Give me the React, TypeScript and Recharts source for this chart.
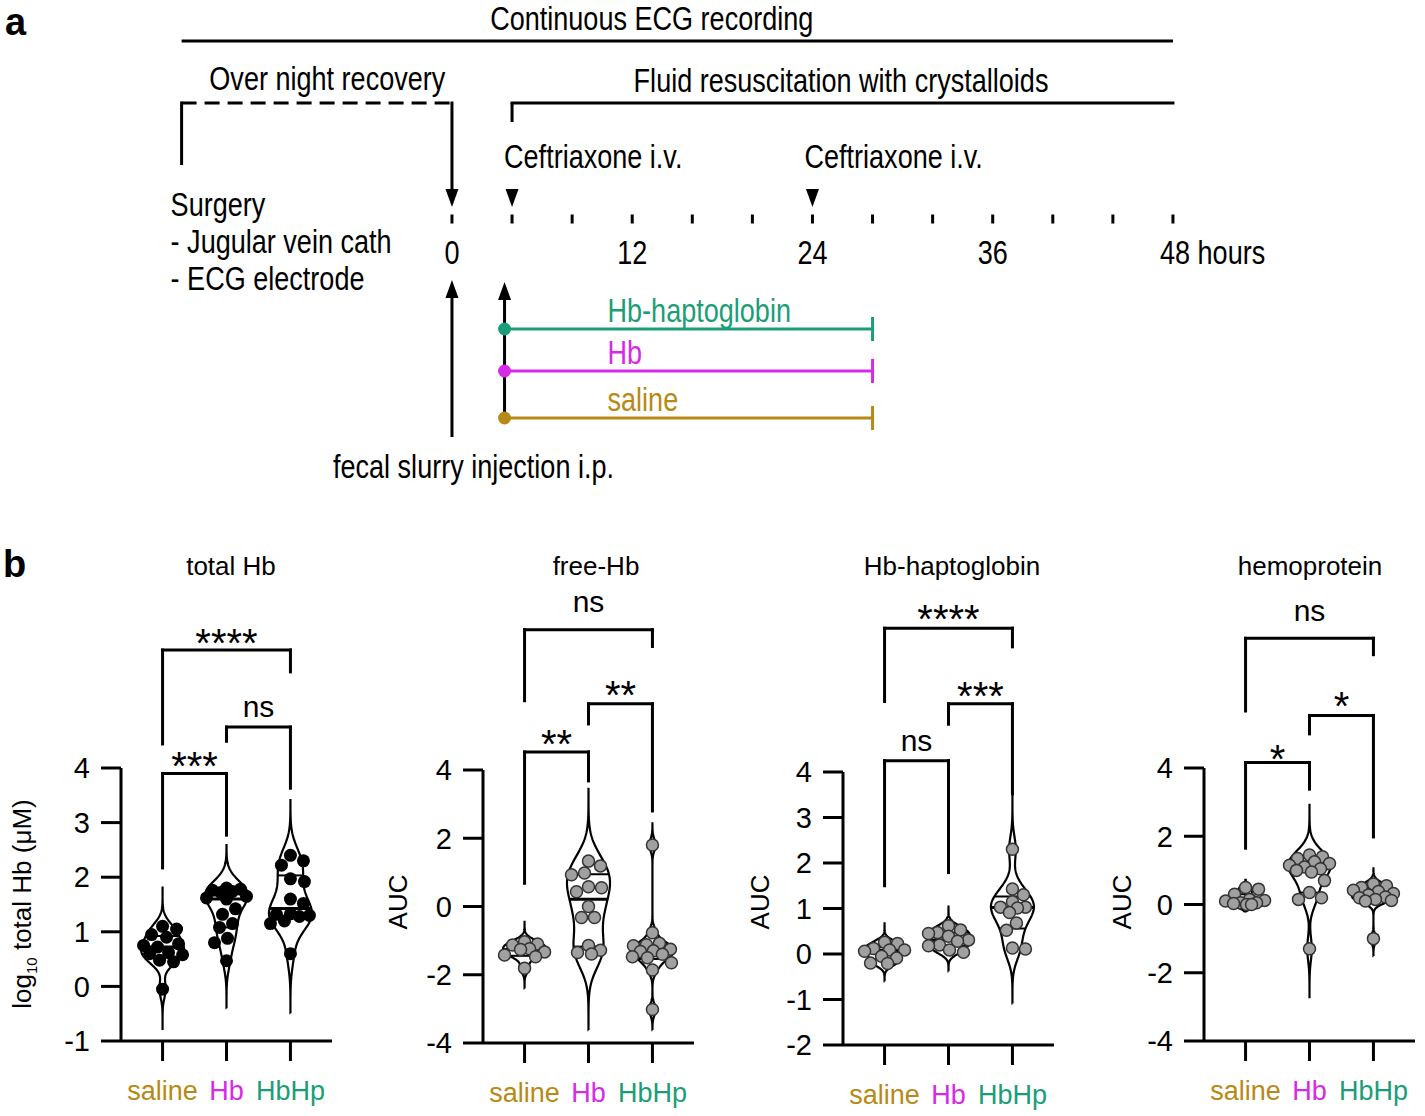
import React from "react";
import {
  ComposedChart,
  Line,
  Scatter,
  XAxis,
  YAxis,
  ReferenceLine,
  ReferenceDot,
} from "recharts";

const SANS = "'Liberation Sans', Arial, sans-serif";

// ---------- panel a: protocol (hours) ----------
const hourTicks = [0, 4, 8, 12, 16, 20, 24, 28, 32, 36, 40, 44, 48];
const hourLabels = [0, 12, 24, 36, 48];
const surgeryTime = -18;
const injectionTime = 0;
const fluidStart = 4;
const recordingEnd = 48;
const ceftriaxoneTimes = [4, 24];
const treatmentStart = 3.5;
const treatmentEnd = 28;
const treatments = ["Hb-haptoglobin", "Hb", "saline"];

// ---------- panel b ----------
const groups = ["saline", "Hb", "HbHp"];
const groupColors = ["#b78916", "#d62ae8", "#1b9e77"];
const treatmentColors = [groupColors[2], groupColors[1], groupColors[0]];

// total Hb (log10 µM)
const totalHbSaline = [1.1, 1.05, 0.95, 0.9, 0.78, 0.75, 0.72, 0.62, 0.6, 0.58, 0.48, 0.45, -0.05];
const totalHbHb = [1.8, 1.78, 1.76, 1.74, 1.72, 1.65, 1.62, 1.6, 1.42, 1.32, 1.15, 1.08, 0.88, 0.8, 0.47];
const totalHbHbHp = [2.4, 2.3, 2.22, 1.97, 1.92, 1.6, 1.52, 1.33, 1.32, 1.3, 1.28, 1.2, 1.15, 0.6];
const totalHbTails = [[-0.8, 1.83], [-0.4, 2.59], [-0.49, 3.41]];

// free-Hb AUC
const freeHbSaline = [-1.03, -1.1, -1.13, -1.24, -1.26, -1.33, -1.42, -1.47, -1.81];
const freeHbHb = [1.33, 1.19, 0.98, 0.93, 0.58, 0.55, 0.43, 0.0, -0.32, -0.32, -1.14, -1.28, -1.35, -1.39];
const freeHbHbHp = [1.8, -0.77, -1.08, -1.12, -1.15, -1.25, -1.3, -1.32, -1.4, -1.47, -1.5, -1.65, -1.86, -3.02];
const freeHbTails = [[-2.4, -0.45], [-3.62, 3.45], [-3.62, 2.44]];

// Hb-haptoglobin AUC
const hbhpSaline = [0.26, 0.23, 0.12, 0.09, 0.09, 0.06, -0.05, -0.09, -0.2, -0.21];
const hbhpHb = [0.62, 0.53, 0.47, 0.45, 0.39, 0.31, 0.28, 0.2, 0.18, 0.09, 0.04];
const hbhpHbHp = [2.3, 1.43, 1.3, 1.15, 1.03, 1.03, 1.01, 0.91, 0.68, 0.52, 0.13, 0.11];
const hbhpTails = [[-0.6, 0.7], [-0.38, 1.04], [-1.09, 3.5]];

// hemoprotein AUC
const hemoSaline = [0.5, 0.45, 0.3, 0.15, 0.12, 0.1, 0.05, 0.05, 0.03, 0.0, 0.0];
const hemoHb = [1.45, 1.4, 1.35, 1.25, 1.2, 1.15, 1.1, 1.05, 1.0, 0.95, 0.7, 0.35, 0.2, 0.15, -1.3];
const hemoHbHp = [0.6, 0.55, 0.5, 0.42, 0.38, 0.32, 0.28, 0.22, 0.2, 0.15, 0.12, 0.1, -1.0];
const hemoTails = [[-0.2, 0.72], [-2.75, 2.92], [-1.51, 1.06]];

// significance brackets: groups, bar level, leg ends (axis units)
type Bracket = { from: number; to: number; top: number; leftEnd: number; rightEnd: number; label: string; lift: number };
const totalHbBrackets: Bracket[] = [
  { from: 0, to: 2, top: 6.16, leftEnd: 4.44, rightEnd: 5.76, label: "****", lift: 16 },
  { from: 1, to: 2, top: 4.75, leftEnd: 4.49, rightEnd: 3.63, label: "ns", lift: 18 },
  { from: 0, to: 1, top: 3.9, leftEnd: 2.17, rightEnd: 2.77, label: "***", lift: 16 },
];
const freeHbBrackets: Bracket[] = [
  { from: 0, to: 2, top: 8.11, leftEnd: 6.03, rightEnd: 7.62, label: "ns", lift: 26 },
  { from: 1, to: 2, top: 5.94, leftEnd: 5.35, rightEnd: 2.8, label: "**", lift: 18 },
  { from: 0, to: 1, top: 4.53, leftEnd: 0.68, rightEnd: 3.68, label: "**", lift: 17 },
];
const hbhpBrackets: Bracket[] = [
  { from: 0, to: 2, top: 7.16, leftEnd: 5.55, rightEnd: 6.75, label: "****", lift: 18 },
  { from: 1, to: 2, top: 5.5, leftEnd: 5.05, rightEnd: 3.52, label: "***", lift: 17 },
  { from: 0, to: 1, top: 4.25, leftEnd: 1.5, rightEnd: 1.79, label: "ns", lift: 17 },
];
const hemoBrackets: Bracket[] = [
  { from: 0, to: 2, top: 7.8, leftEnd: 5.67, rightEnd: 7.32, label: "ns", lift: 25 },
  { from: 1, to: 2, top: 5.54, leftEnd: 5.0, rightEnd: 1.98, label: "*", lift: 18 },
  { from: 0, to: 1, top: 4.16, leftEnd: 1.65, rightEnd: 3.38, label: "*", lift: 12 },
];

const panels = [
  { title: "total Hb", sets: [totalHbSaline, totalHbHb, totalHbHbHp], tails: totalHbTails, domain: [-1, 4], ticks: [-1, 0, 1, 2, 3, 4], brackets: totalHbBrackets, filled: false },
  { title: "free-Hb", sets: [freeHbSaline, freeHbHb, freeHbHbHp], tails: freeHbTails, domain: [-4, 4], ticks: [-4, -2, 0, 2, 4], brackets: freeHbBrackets, filled: true },
  { title: "Hb-haptoglobin", sets: [hbhpSaline, hbhpHb, hbhpHbHp], tails: hbhpTails, domain: [-2, 4], ticks: [-2, -1, 0, 1, 2, 3, 4], brackets: hbhpBrackets, filled: true },
  { title: "hemoprotein", sets: [hemoSaline, hemoHb, hemoHbHp], tails: hemoTails, domain: [-4, 4], ticks: [-4, -2, 0, 2, 4], brackets: hemoBrackets, filled: true },
];

// where each small chart sits on the page
const layout = [
  { axisX: 121, plotTop: 768, titleX: 231, labelX: 31 },
  { axisX: 483, plotTop: 770, titleX: 596, labelX: 407 },
  { axisX: 843, plotTop: 772, titleX: 952, labelX: 769 },
  { axisX: 1204, plotTop: 768, titleX: 1310, labelX: 1131 },
];

// ---------- helpers ----------
function quantile(sorted: number[], p: number) {
  const n = sorted.length;
  let pos = (n + 1) * p - 1;
  pos = Math.max(0, Math.min(n - 1, pos));
  const lo = Math.floor(pos);
  const hi = Math.min(n - 1, lo + 1);
  return sorted[lo] + (pos - lo) * (sorted[hi] - sorted[lo]);
}

function bandwidth(vals: number[]) {
  const n = vals.length;
  const mean = vals.reduce((a, b) => a + b, 0) / n;
  const sd = Math.sqrt(vals.reduce((a, b) => a + (b - mean) ** 2, 0) / (n - 1));
  const s = [...vals].sort((a, b) => a - b);
  const iqr = quantile(s, 0.75) - quantile(s, 0.25);
  const spread = iqr > 0 ? Math.min(sd, iqr / 1.34) : sd;
  return 0.9 * spread * Math.pow(n, -0.2);
}

function buildViolin(vals: number[], lo: number, hi: number, center: number, half: number) {
  const h = bandwidth(vals);
  const dens = (y: number) => vals.reduce((a, v) => a + Math.exp(-0.5 * ((y - v) / h) ** 2), 0);
  const steps = 160;
  const ys: number[] = [];
  for (let i = 0; i <= steps; i++) ys.push(lo + ((hi - lo) * i) / steps);
  const d = ys.map(dens);
  const max = Math.max(...d);
  const width = (y: number) => (dens(y) / max) * half;
  const right = ys.map((y, i) => ({ x: center + (d[i] / max) * half, y }));
  const left = ys.map((y, i) => ({ x: center - (d[i] / max) * half, y })).reverse();
  const s = [...vals].sort((a, b) => a - b);
  const stats = [
    { q: quantile(s, 0.25), w: 2 },
    { q: quantile(s, 0.5), w: 3 },
    { q: quantile(s, 0.75), w: 2 },
  ].map((st) => ({
    width: st.w,
    pts: [
      { x: center - width(st.q), y: st.q },
      { x: center + width(st.q), y: st.q },
    ],
  }));
  return { outline: [...right, ...left, right[0]], stats };
}

// beeswarm offsets in pixels, kept within +-maxOff
function swarm(vals: number[], pxY: number, r: number, maxOff: number) {
  const order = vals.map((_, i) => i).sort((a, b) => vals[b] - vals[a]);
  const placed: { x: number; y: number }[] = [];
  const out = vals.map(() => 0);
  const minD = 1.9 * r;
  for (const i of order) {
    const y = vals[i] * pxY;
    let best = 0;
    let bestGap = -1;
    for (let k = 0; k <= 2 * maxOff; k++) {
      const cand = k === 0 ? 0 : (k % 2 ? 1 : -1) * Math.ceil(k / 2);
      const gap = placed.length ? Math.min(...placed.map((p) => Math.hypot(p.x - cand, p.y - y))) : Infinity;
      if (gap >= minD) {
        best = cand;
        bestGap = gap;
        break;
      }
      if (gap > bestGap + 0.5) {
        best = cand;
        bestGap = gap;
      }
    }
    placed.push({ x: best, y });
    out[i] = best;
  }
  return out;
}

const axisStyle = { stroke: "#000", strokeWidth: 3 };

function CategoryTick(props: any) {
  const { x, y, payload } = props;
  const i = payload.value as number;
  return (
    <text x={x} y={y + 39} textAnchor="middle" fill={groupColors[i]} fontSize={27} fontFamily={SANS}>
      {groups[i]}
    </text>
  );
}

function ViolinChart({ panel, pos }: { panel: (typeof panels)[number]; pos: (typeof layout)[number] }) {
  const plotW = 211;
  const plotH = 273;
  const yAxisW = 120;
  const boxTop = 540;
  const boxH = 575;
  const rightPad = 12;
  const xDom = [-0.65, 2.65];
  const pxX = plotW / (xDom[1] - xDom[0]);
  const pxY = plotH / (panel.domain[1] - panel.domain[0]);
  const half = 21.5 / pxX;
  const r = panel.filled ? 6 : 6.5;
  const violins = panel.sets.map((vals, g) => buildViolin(vals, panel.tails[g][0], panel.tails[g][1], g, half));
  const dots = panel.sets.map((vals, g) => {
    const offs = swarm(vals, pxY, r + 0.5, 20);
    return vals.map((v, i) => ({ x: g + offs[i] / pxX, y: v }));
  });
  const topMargin = pos.plotTop - boxTop;

  return (
    <div style={{ position: "absolute", left: pos.axisX - yAxisW, top: boxTop }}>
      <ComposedChart
        width={yAxisW + plotW + rightPad}
        height={boxH}
        margin={{ top: topMargin, right: rightPad, bottom: 0, left: 0 }}
      >
        <XAxis
          type="number"
          dataKey="x"
          domain={xDom}
          ticks={[0, 1, 2]}
          interval={0}
          allowDataOverflow
          height={boxH - topMargin - plotH}
          tickSize={20}
          tickMargin={0}
          axisLine={axisStyle}
          tickLine={axisStyle}
          tick={(p: any) => <CategoryTick {...p} />}
        />
        <YAxis
          type="number"
          dataKey="y"
          domain={panel.domain}
          ticks={panel.ticks}
          interval={0}
          allowDataOverflow
          width={yAxisW}
          tickSize={20}
          tickMargin={11}
          axisLine={axisStyle}
          tickLine={axisStyle}
          tick={{ fontSize: 29, fill: "#000", fontFamily: SANS }}
        />
        {violins.map((v, g) => (
          <Line
            key={`v${g}`}
            data={v.outline}
            dataKey="y"
            type="linear"
            stroke="#000"
            strokeWidth={2.2}
            dot={false}
            activeDot={false}
            isAnimationActive={false}
          />
        ))}
        {violins.map((v, g) =>
          v.stats.map((st, k) => (
            <Line
              key={`q${g}-${k}`}
              data={st.pts}
              dataKey="y"
              type="linear"
              stroke="#000"
              strokeWidth={st.width}
              dot={false}
              activeDot={false}
              isAnimationActive={false}
            />
          ))
        )}
        {dots.map((d, g) => (
          <Scatter
            key={`s${g}`}
            data={d}
            isAnimationActive={false}
            shape={(p: any) => (
              <circle
                cx={p.cx}
                cy={p.cy}
                r={r}
                fill={panel.filled ? "#a0a0a0" : "#000"}
                stroke={panel.filled ? "#333" : "none"}
                strokeWidth={1.5}
              />
            )}
          />
        ))}
        {panel.brackets.map((b, k) => [
          <ReferenceLine key={`bh${k}`} segment={[{ x: b.from, y: b.top }, { x: b.to, y: b.top }]} ifOverflow="visible" stroke="#000" strokeWidth={3} strokeLinecap="square" />,
          <ReferenceLine key={`bl${k}`} segment={[{ x: b.from, y: b.top }, { x: b.from, y: b.leftEnd }]} ifOverflow="visible" stroke="#000" strokeWidth={3} strokeLinecap="square" />,
          <ReferenceLine key={`br${k}`} segment={[{ x: b.to, y: b.top }, { x: b.to, y: b.rightEnd }]} ifOverflow="visible" stroke="#000" strokeWidth={3} strokeLinecap="square" />,
          <ReferenceDot
            key={`bt${k}`}
            x={(b.from + b.to) / 2}
            y={b.top}
            r={0}
            ifOverflow="visible"
            shape={(p: any) => {
              const star = b.label.includes("*");
              const fs = star ? 40 : 30;
              const base = p.cy - b.lift + (star ? 0.57 : 0.26) * fs;
              return (
                <text x={p.cx} y={base} textAnchor="middle" fontSize={fs} fontFamily={SANS} fill="#000">
                  {b.label}
                </text>
              );
            }}
          />,
        ])}
      </ComposedChart>
    </div>
  );
}

// condensed label (Arial-Narrow look made by squeezing Liberation Sans)
function note(key: string, x: number, y: number, text: React.ReactNode, opts: { anchor?: "start" | "middle" | "end"; dx?: number; fill?: string } = {}) {
  const { anchor = "start", dx = 0, fill = "#000" } = opts;
  return (
    <ReferenceDot
      key={key}
      x={x}
      y={y}
      r={0}
      ifOverflow="visible"
      shape={(p: any) => (
        <g transform={`translate(${p.cx + dx},${p.cy}) scale(0.82,1)`}>
          <text x={0} y={0} textAnchor={anchor} fill={fill} fontSize={33} fontFamily={SANS}>
            {text}
          </text>
        </g>
      )}
    />
  );
}

function Timeline() {
  // y axis is in page pixels for this schematic
  const rowEcg = 41;
  const rowPhase = 103;
  const rowTick = 219;
  const rowDown = 207;
  const rows = [329, 371, 418];
  const black = { stroke: "#000", strokeWidth: 3 };
  const downHead = (p: any) => (
    <polygon points={`${p.cx - 6.5},${p.cy - 18} ${p.cx + 6.5},${p.cy - 18} ${p.cx},${p.cy}`} fill="#000" />
  );
  const upHead = (p: any) => (
    <polygon points={`${p.cx - 6.5},${p.cy + 18} ${p.cx + 6.5},${p.cy + 18} ${p.cx},${p.cy}`} fill="#000" />
  );
  return (
    <ComposedChart width={1425} height={500} margin={{ top: 0, right: 0, bottom: 0, left: 0 }}>
      <XAxis type="number" dataKey="x" domain={[-30.09, 64.78]} hide allowDataOverflow />
      <YAxis type="number" dataKey="y" domain={[0, 500]} reversed hide allowDataOverflow />

      <ReferenceLine segment={[{ x: surgeryTime, y: rowEcg }, { x: recordingEnd, y: rowEcg }]} ifOverflow="visible" {...black} />
      <ReferenceLine segment={[{ x: surgeryTime, y: rowPhase }, { x: injectionTime, y: rowPhase }]} ifOverflow="visible" {...black} strokeDasharray="15 8" />
      <ReferenceLine segment={[{ x: surgeryTime, y: rowPhase - 1.5 }, { x: surgeryTime, y: 165 }]} ifOverflow="visible" {...black} />
      <ReferenceLine segment={[{ x: injectionTime, y: rowPhase - 1.5 }, { x: injectionTime, y: 192 }]} ifOverflow="visible" {...black} />
      <ReferenceLine segment={[{ x: fluidStart, y: rowPhase }, { x: recordingEnd, y: rowPhase }]} ifOverflow="visible" {...black} strokeLinecap="square" />
      <ReferenceLine segment={[{ x: fluidStart, y: rowPhase }, { x: fluidStart, y: 122 }]} ifOverflow="visible" {...black} />

      <Scatter data={[{ x: injectionTime, y: rowDown }]} isAnimationActive={false} shape={downHead} />
      <Scatter data={ceftriaxoneTimes.map((t) => ({ x: t, y: rowDown }))} isAnimationActive={false} shape={downHead} />
      <Scatter
        data={hourTicks.map((t) => ({ x: t, y: rowTick }))}
        isAnimationActive={false}
        shape={(p: any) => <rect x={p.cx - 1.5} y={p.cy - 4.5} width={3} height={9} fill="#000" />}
      />

      {/* injection and treatment-start arrows */}
      <ReferenceLine segment={[{ x: injectionTime, y: 437 }, { x: injectionTime, y: 292 }]} ifOverflow="visible" {...black} />
      <ReferenceLine segment={[{ x: treatmentStart, y: rows[2] }, { x: treatmentStart, y: 294 }]} ifOverflow="visible" {...black} />
      <Scatter data={[{ x: injectionTime, y: 280 }, { x: treatmentStart, y: 282 }]} isAnimationActive={false} shape={upHead} />

      {treatments.map((t, i) => [
        <ReferenceLine key={`tl${i}`} segment={[{ x: treatmentStart, y: rows[i] }, { x: treatmentEnd, y: rows[i] }]} ifOverflow="visible" stroke={treatmentColors[i]} strokeWidth={3} />,
        <ReferenceLine key={`tc${i}`} segment={[{ x: treatmentEnd, y: rows[i] - 12 }, { x: treatmentEnd, y: rows[i] + 12 }]} ifOverflow="visible" stroke={treatmentColors[i]} strokeWidth={3} />,
      ])}
      <Scatter
        data={treatments.map((t, i) => ({ x: treatmentStart, y: rows[i], c: treatmentColors[i] }))}
        isAnimationActive={false}
        shape={(p: any) => <circle cx={p.cx} cy={p.cy} r={6.5} fill={p.payload.c} />}
      />

      {note("ecg", 13.3, 30, "Continuous ECG recording", { anchor: "middle" })}
      {note("rec", -8.3, 90, "Over night recovery", { anchor: "middle" })}
      {note("fluid", 25.9, 92, "Fluid resuscitation with crystalloids", { anchor: "middle" })}
      {ceftriaxoneTimes.map((t, i) => note(`cef${i}`, t, 168, "Ceftriaxone i.v.", { dx: -8 }))}
      {note("surg", surgeryTime, 216, "Surgery", { dx: -11 })}
      {note("jug", surgeryTime, 253, "- Jugular vein cath", { dx: -11 })}
      {note("ecgel", surgeryTime, 290, "- ECG electrode", { dx: -11 })}
      {hourLabels.map((h) =>
        h === recordingEnd
          ? note(`h${h}`, h, 264, `${h} hours`, { dx: -13 })
          : note(`h${h}`, h, 264, `${h}`, { anchor: "middle" })
      )}
      {treatments.map((t, i) => note(`tn${i}`, treatmentStart, rows[i] - 7, t, { dx: 103, fill: treatmentColors[i] }))}
      {note("fecal", injectionTime, 478, "fecal slurry injection i.p.", { dx: -119 })}
    </ComposedChart>
  );
}

export default function App() {
  return (
    <div
      style={{
        position: "absolute",
        left: 0,
        top: 0,
        width: 1425,
        height: 1116,
        overflow: "hidden",
        background: "#fff",
        fontFamily: SANS,
      }}
    >
      <div style={{ position: "absolute", left: 0, top: 0 }}>
        <Timeline />
      </div>
      {panels.map((p, i) => (
        <ViolinChart key={p.title} panel={p} pos={layout[i]} />
      ))}
      <svg width={1425} height={1116} style={{ position: "absolute", left: 0, top: 0, pointerEvents: "none" }}>
        <text x={5} y={35} fontSize={38} fontWeight="bold" fontFamily={SANS}>a</text>
        <text x={3} y={577} fontSize={38} fontWeight="bold" fontFamily={SANS}>b</text>
        {panels.map((p, i) => (
          <text key={p.title} x={layout[i].titleX} y={575} textAnchor="middle" fontSize={26} fontFamily={SANS}>
            {p.title}
          </text>
        ))}
        <text transform={`translate(${layout[0].labelX}, 904) rotate(-90)`} textAnchor="middle" fontSize={26} fontFamily={SANS}>
          log<tspan fontSize={15} dy={6}>10</tspan>
          <tspan dy={-6}> total Hb (μM)</tspan>
        </text>
        {layout.slice(1).map((l, i) => (
          <text key={i} transform={`translate(${l.labelX}, 902) rotate(-90)`} textAnchor="middle" fontSize={26} fontFamily={SANS}>
            AUC
          </text>
        ))}
      </svg>
    </div>
  );
}
